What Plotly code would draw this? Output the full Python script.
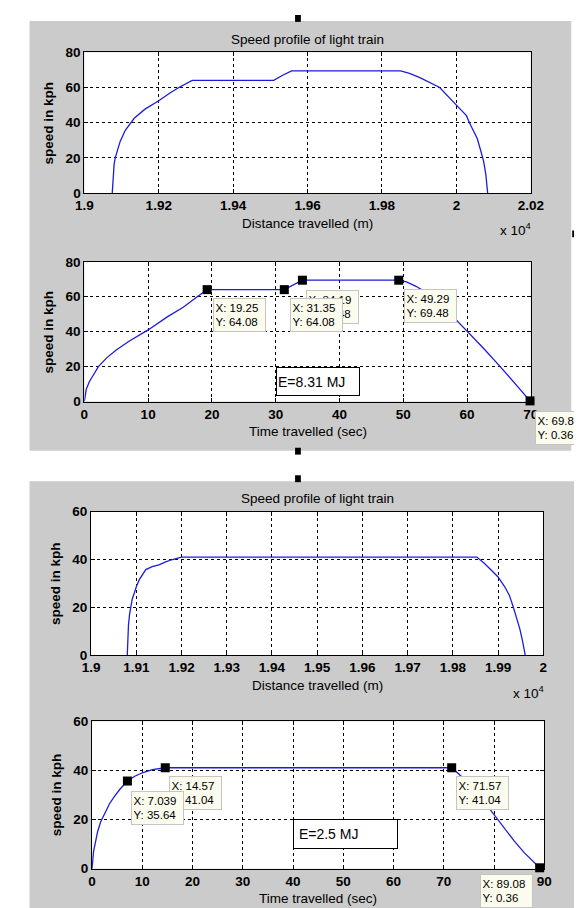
import plotly.graph_objects as go

W, H = 582, 908
FONT = "Liberation Sans, Arial, Helvetica, sans-serif"
LINE_COLOR = "#1c1cdc"

# ---------------- data: upper screenshot (E = 8.31 MJ) ----------------
dist_a_m = [19075, 19077, 19080, 19083, 19096, 19110, 19134, 19163, 19200, 19230,
            19254, 19290, 19509, 19533, 19557, 19850, 19874, 19902, 19931, 19955,
            20000, 20027, 20035, 20056, 20066, 20073, 20079, 20082, 20084]
speed_a_dist = [0, 8.9, 16.3, 20, 29.2, 35.7, 42.5, 47.7, 52.5, 56.9,
                60, 64.08, 64.08, 67, 69.48, 69.48, 68, 65.6, 62.4, 60,
                50, 44, 40, 31, 23.6, 18.1, 10.7, 5.2, 0]

time_a_s = [0, 0.3, 0.8, 1.5, 2.2, 3.5, 5, 7, 10, 13, 15.5, 17.7, 19.25, 31.35,
            34.19, 49.29, 50.5, 52, 54, 56, 58.1, 60.2, 62.5, 65.2, 67.5, 69.88]
speed_a_time = [0, 7, 11.5, 16, 20, 25, 29.5, 34.5, 41, 48.5, 54, 60, 64.08, 64.08,
                69.48, 69.48, 68.5, 66, 61.5, 55.5, 47.5, 40, 30.8, 20, 10.3, 0.36]

tips_a_x = [19.25, 31.35, 34.19, 49.29, 69.88]
tips_a_y = [64.08, 64.08, 69.48, 69.48, 0.36]
energy_a = "E=8.31 MJ"

# ---------------- data: lower screenshot (E = 2.5 MJ) ----------------
dist_b_m = [19080, 19081, 19082.7, 19085, 19087.7, 19091, 19096, 19101, 19107, 19114,
            19121, 19135, 19150, 19165, 19178, 19200, 19853, 19870, 19885, 19900,
            19915, 19925, 19933, 19940, 19948, 19954, 19958, 19960]
speed_b_dist = [0, 6, 12.7, 17, 20, 23.5, 26.2, 29.2, 31.7, 34,
                35.8, 37, 37.8, 39, 39.9, 41.04, 41.04, 38.3, 35.6, 32.7,
                28.5, 25, 20.5, 16.5, 11, 6, 2.5, 0]

time_b_s = [0, 0.3, 0.7, 1.1, 1.7, 2.5, 3.5, 4.5, 5.5, 7.039, 8.5, 10, 12, 14.57,
            71.57, 73, 75, 77, 79, 80.4, 82, 84, 86, 88, 89.08]
speed_b_time = [0, 7, 11, 15, 19, 22.5, 26.5, 29.5, 32.2, 35.64, 37.6, 39, 40.3, 41.04,
                41.04, 38.5, 34.5, 30, 24.7, 20.5, 16.5, 11.3, 6.5, 2.5, 0.36]

tips_b_x = [7.039, 14.57, 71.57, 89.08]
tips_b_y = [35.64, 41.04, 41.04, 0.36]
energy_b = "E=2.5 MJ"

# tick definitions
dist_a_ticks = [19000, 19200, 19400, 19600, 19800, 20000, 20200]
dist_a_ticktext = ["1.9", "1.92", "1.94", "1.96", "1.98", "2", "2.02"]
dist_b_ticks = [19000, 19100, 19200, 19300, 19400, 19500, 19600, 19700, 19800, 19900, 20000]
dist_b_ticktext = ["1.9", "1.91", "1.92", "1.93", "1.94", "1.95", "1.96", "1.97", "1.98", "1.99", "2"]
time_a_ticks = [0, 10, 20, 30, 40, 50, 60, 70]
time_b_ticks = [0, 10, 20, 30, 40, 50, 60, 70, 80, 90]
speed_a_ticks = [0, 20, 40, 60, 80]
speed_b_ticks = [0, 20, 40, 60]

TITLE = "Speed profile of light train"
YLABEL = "speed in kph"
XLABEL_D = "Distance travelled (m)"
XLABEL_T = "Time travelled (sec)"

# ---------------- layout geometry (pixels) ----------------
AX = {  # left, right, top, bottom
    1: (70, 534, 38, 181),
    2: (70, 534, 251, 393),
    3: (77, 547, 505, 651),
    4: (78, 548, 718, 868),
}


def fx(px):
    return px / W


def fy(py):
    return 1 - py / H


fig = go.Figure()

# curves
fig.add_trace(go.Scatter(x=dist_a_m, y=speed_a_dist, mode="lines",
                         line=dict(color=LINE_COLOR, width=1.3), xaxis="x", yaxis="y"))
fig.add_trace(go.Scatter(x=time_a_s, y=speed_a_time, mode="lines",
                         line=dict(color=LINE_COLOR, width=1.3), xaxis="x2", yaxis="y2"))
fig.add_trace(go.Scatter(x=dist_b_m, y=speed_b_dist, mode="lines",
                         line=dict(color=LINE_COLOR, width=1.3), xaxis="x3", yaxis="y3"))
fig.add_trace(go.Scatter(x=time_b_s, y=speed_b_time, mode="lines",
                         line=dict(color=LINE_COLOR, width=1.3), xaxis="x4", yaxis="y4"))

# datatip markers
fig.add_trace(go.Scatter(x=tips_a_x, y=tips_a_y, mode="markers", cliponaxis=False,
                         marker=dict(symbol="square", size=9, color="black"),
                         xaxis="x2", yaxis="y2"))
fig.add_trace(go.Scatter(x=tips_b_x, y=tips_b_y, mode="markers", cliponaxis=False,
                         marker=dict(symbol="square", size=9, color="black"),
                         xaxis="x4", yaxis="y4"))

axis_common = dict(showline=True, linecolor="black", linewidth=1, mirror="ticks",
                   ticks="inside", ticklen=4, tickcolor="black",
                   showgrid=True, gridcolor="black", griddash="dot", gridwidth=1,
                   zeroline=False, fixedrange=True,
                   tickfont=dict(family=FONT, size=13.5, color="black", weight="bold"))

layout = dict(width=W, height=H, margin=dict(l=0, r=0, t=0, b=0),
              paper_bgcolor="white", plot_bgcolor="rgba(0,0,0,0)", showlegend=False)

specs = {
    1: (dict(range=[19000, 20200], tickvals=dist_a_ticks, ticktext=dist_a_ticktext),
        dict(range=[0, 80], tickvals=speed_a_ticks)),
    2: (dict(range=[0, 70], tickvals=time_a_ticks),
        dict(range=[0, 80], tickvals=speed_a_ticks)),
    3: (dict(range=[19000, 20000], tickvals=dist_b_ticks, ticktext=dist_b_ticktext),
        dict(range=[0, 60], tickvals=speed_b_ticks)),
    4: (dict(range=[0, 90], tickvals=time_b_ticks),
        dict(range=[0, 60], tickvals=speed_b_ticks)),
}
for i, (xs, ys) in specs.items():
    l, r, t, b = AX[i]
    sx = "" if i == 1 else str(i)
    layout["xaxis" + sx] = dict(axis_common, domain=[fx(l), fx(r)], anchor="y" + sx, **xs)
    layout["yaxis" + sx] = dict(axis_common, domain=[fy(b), fy(t)], anchor="x" + sx, **ys)

fig.update_layout(**layout)

# background panels (figure grey) and white axes areas
shapes = []
for (x0, x1, y0, y1) in [(13, 576, 6, 443), (13, 582, 474, 908)]:
    shapes.append(dict(type="rect", xref="paper", yref="paper", x0=fx(x0), x1=fx(x1),
                       y0=fy(y1), y1=fy(y0), fillcolor="#cbcbcb", line=dict(width=0),
                       layer="below"))
for i, (l, r, t, b) in AX.items():
    shapes.append(dict(type="rect", xref="paper", yref="paper", x0=fx(l), x1=fx(r),
                       y0=fy(b), y1=fy(t), fillcolor="white", line=dict(width=0),
                       layer="below"))
# small window handles from the screenshot
for (x0, x1, y0, y1) in [(289, 295, 0, 7), (289, 295, 440, 447), (289, 295, 468, 475),
                         (577, 582, 219, 226)]:
    shapes.append(dict(type="rect", xref="paper", yref="paper", x0=fx(x0), x1=fx(x1),
                       y0=fy(y1), y1=fy(y0), fillcolor="black", line=dict(width=0),
                       layer="above"))
fig.update_layout(shapes=shapes)

ann = []
txt = dict(family=FONT, size=13.5, color="black")
txt_b = dict(family=FONT, size=13.5, color="black", weight="bold")
for i, (l, r, t, b) in AX.items():
    cx = (l + r) / 2
    cy = (t + b) / 2
    if i in (1, 3):
        ann.append(dict(text=TITLE, xref="paper", yref="paper", x=fx(cx), y=fy(t - 13),
                        xanchor="center", yanchor="middle", showarrow=False, font=txt))
        ann.append(dict(text=XLABEL_D, xref="paper", yref="paper", x=fx(cx), y=fy(b + 31),
                        xanchor="center", yanchor="middle", showarrow=False, font=txt))
        ann.append(dict(text="x 10<sup>4</sup>", xref="paper", yref="paper", x=fx(r - 34),
                        y=fy(b + 37), xanchor="left", yanchor="middle", showarrow=False,
                        font=txt))
    else:
        ann.append(dict(text=XLABEL_T, xref="paper", yref="paper", x=fx(cx), y=fy(b + 30),
                        xanchor="center", yanchor="middle", showarrow=False, font=txt))
    ann.append(dict(text=YLABEL, xref="paper", yref="paper", x=fx(l - 37), y=fy(cy),
                    xanchor="center", yanchor="middle", textangle=-90, showarrow=False,
                    font=txt_b))

# datatips: (pixel offset of box top-left from the point); listed bottom-most first
tip_font = dict(family=FONT, size=11.5, color="black")
tip_style = dict(showarrow=False, xanchor="left", yanchor="top", align="left",
                 bgcolor="#fbfbee", bordercolor="#c4c4c4", borderwidth=1, borderpad=1.5,
                 width=48, height=29, font=tip_font)
tip_offsets_a = [(6, 8), (6, 8), (4, 10), (5, 9), (5, 10)]
tip_order_a = [0, 2, 1, 3, 4]
tip_offsets_b = [(4, 10), (4, 8), (4, 8), (-60, 6)]
tip_order_b = [1, 0, 2, 3]


def fmt(v):
    return f"{v:.4g}"


for k in tip_order_a:
    dx, dy = tip_offsets_a[k]
    ann.append(dict(tip_style, text=f"X: {fmt(tips_a_x[k])}<br>Y: {fmt(tips_a_y[k])}",
                    xref="x2", yref="y2", x=tips_a_x[k], y=tips_a_y[k],
                    xshift=dx, yshift=-dy))
for k in tip_order_b:
    dx, dy = tip_offsets_b[k]
    ann.append(dict(tip_style, text=f"X: {fmt(tips_b_x[k])}<br>Y: {fmt(tips_b_y[k])}",
                    xref="x4", yref="y4", x=tips_b_x[k], y=tips_b_y[k],
                    xshift=dx, yshift=-dy))

# energy text boxes
ebox = dict(showarrow=False, align="left", bgcolor="white", bordercolor="black",
            borderwidth=1, borderpad=1, font=dict(family=FONT, size=14, color="black"))
ann.append(dict(ebox, text=energy_a, xref="x2", yref="y2", x=30, y=19.7,
                xanchor="left", yanchor="top", width=80, height=25))
ann.append(dict(ebox, text="&nbsp;" + energy_b, xref="x4", yref="y4", x=40, y=20,
                xanchor="left", yanchor="top", width=101, height=26))

fig.update_layout(annotations=ann)

fig.write_html("out.html")
